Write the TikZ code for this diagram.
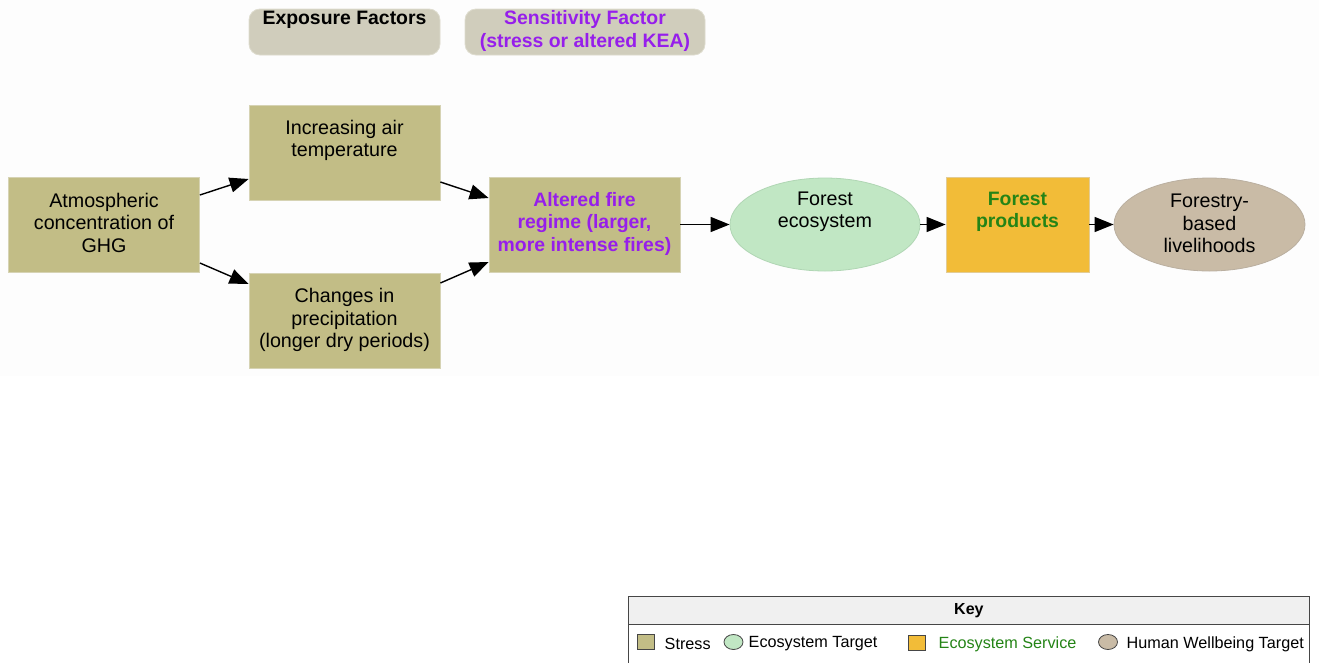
\documentclass[tikz,border=0pt]{standalone}
\usepackage{fontspec}
\setmainfont{Liberation Sans}
\usetikzlibrary{shapes.geometric,arrows.meta}

\definecolor{stressfill}{RGB}{194,189,134}
\definecolor{stressedge}{RGB}{214,211,180}
\definecolor{hdrfill}{RGB}{208,205,188}
\definecolor{hdredge}{RGB}{222,220,206}
\definecolor{ecofill}{RGB}{193,231,196}
\definecolor{ecoedge}{RGB}{176,214,180}
\definecolor{svcfill}{RGB}{242,188,56}
\definecolor{svcedge}{RGB}{226,204,150}
\definecolor{humfill}{RGB}{201,187,166}
\definecolor{humedge}{RGB}{186,175,160}
\definecolor{sensviolet}{RGB}{150,30,235}
\definecolor{svcgreen}{RGB}{36,132,22}
\definecolor{keyedge}{RGB}{70,70,70}
\definecolor{keyhead}{RGB}{240,240,240}
\definecolor{bgfaint}{RGB}{253,253,253}

\tikzset{
  box/.style={rectangle, inner sep=0pt, line width=0.8pt},
  stressbox/.style={box, fill=stressfill, draw=stressedge, minimum width=191pt, minimum height=95pt},
  hdrbox/.style={rectangle, rounded corners=11pt, fill=hdrfill, draw=hdredge, line width=0.8pt, inner sep=0pt, minimum height=46pt},
  ellnode/.style={ellipse, inner sep=0pt, line width=0.8pt, minimum width=190pt, minimum height=93pt},
  txt/.style={align=center, inner sep=0pt, font=\fontsize{19.7}{22.5}\selectfont},
  btxt/.style={txt, font=\fontsize{19.4}{22.5}\selectfont\bfseries},
  link/.style={line width=1.4pt, -{Triangle[length=19pt,width=15pt]}},
  keytxt/.style={inner sep=0pt, anchor=west, font=\fontsize{16.2}{18}\selectfont},
  keysq/.style={rectangle, draw=keyedge, line width=0.8pt, minimum width=17pt, minimum height=15pt, inner sep=0pt},
  keyell/.style={ellipse, draw=keyedge, line width=0.8pt, minimum width=19pt, minimum height=15pt, inner sep=0pt}
}

\begin{document}
\begin{tikzpicture}[x=1pt,y=-1pt]
\useasboundingbox (0,0) rectangle (1319,662);
\fill[white] (0,0) rectangle (1319,662);
\fill[bgfaint] (0,0) rectangle (1319,376);

% column headers
\node[hdrbox, minimum width=191pt] (hexp) at (344.5,32) {};
\node[btxt] (hexpT) at (344.5,20) {Exposure Factors};
\node[hdrbox, minimum width=240pt] (hsens) at (585,32) {};
\node[btxt, text=sensviolet] (hsensT) at (585,31) {Sensitivity Factor\\(stress or altered KEA)};

% stresses
\node[stressbox] (atm) at (104,224.5) {};
\node[txt] (atmT) at (104,222.5) {Atmospheric\\concentration of\\GHG};
\node[stressbox] (inc) at (344.5,152.5) {};
\node[txt] (incT) at (344.5,140.5) {Increasing air\\temperature};
\node[stressbox] (chg) at (344.5,320.5) {};
\node[txt] (chgT) at (344.5,320) {Changes in\\precipitation\\(longer dry periods)};
\node[stressbox] (alt) at (584.5,224.5) {};
\node[btxt, text=sensviolet] (altT) at (584.5,223.5) {Altered fire\\regime (larger,\\more intense fires)};

% targets and service
\node[ellnode, fill=ecofill, draw=ecoedge] (eco) at (825,224.5) {};
\node[txt] (ecoT) at (825,212) {Forest\\ecosystem};
\node[box, fill=svcfill, draw=svcedge, minimum width=143pt, minimum height=95pt] (prod) at (1017.5,224.5) {};
\node[btxt, text=svcgreen] (prodT) at (1017.5,212) {Forest\\products};
\node[ellnode, fill=humfill, draw=humedge, minimum width=191pt] (liv) at (1209.5,224.5) {};
\node[txt] (livT) at (1209.5,223.5) {Forestry-\\based\\livelihoods};

% connectors
\draw[link] ([yshift=29.5pt]atm.east) -- ([yshift=-26.5pt]inc.west);
\draw[link] ([yshift=-38.5pt]atm.east) -- ([yshift=36.5pt]chg.west);
\draw[link] ([yshift=-29.5pt]inc.east) -- ([yshift=26.5pt]alt.west);
\draw[link] ([yshift=37.5pt]chg.east) -- ([yshift=-37.5pt]alt.west);
\draw[link] (alt.east) -- (eco.west);
\draw[link] (eco.east) -- (prod.west);
\draw[link] (prod.east) -- (liv.west);

% key
\node[rectangle, draw=keyedge, line width=0.8pt, fill=white, minimum width=681pt, minimum height=72pt, inner sep=0pt, anchor=north west] (keybox) at (628,596) {};
\node[rectangle, draw=keyedge, line width=0.8pt, fill=keyhead, minimum width=681pt, minimum height=28pt, inner sep=0pt, anchor=north west] (keyhdr) at (628,596) {};
\node[inner sep=0pt, font=\fontsize{16}{18}\selectfont\bfseries] (keyT) at (keyhdr.center) {Key};

\node[keysq, fill=stressfill] (kstress) at (645.5,642) {};
\node[keytxt] (kstressT) at (664.5,644) {Stress};
\node[keyell, fill=ecofill] (keco) at (733.5,642) {};
\node[keytxt] (kecoT) at (748.5,644) {Ecosystem Target};
\node[keysq, fill=svcfill] (ksvc) at (917,643) {};
\node[keytxt, text=svcgreen] (ksvcT) at (938.5,644) {Ecosystem Service};
\node[keyell, fill=humfill] (khum) at (1108,642) {};
\node[keytxt] (khumT) at (1126.5,644) {Human Wellbeing Target};
\end{tikzpicture}
\end{document}
